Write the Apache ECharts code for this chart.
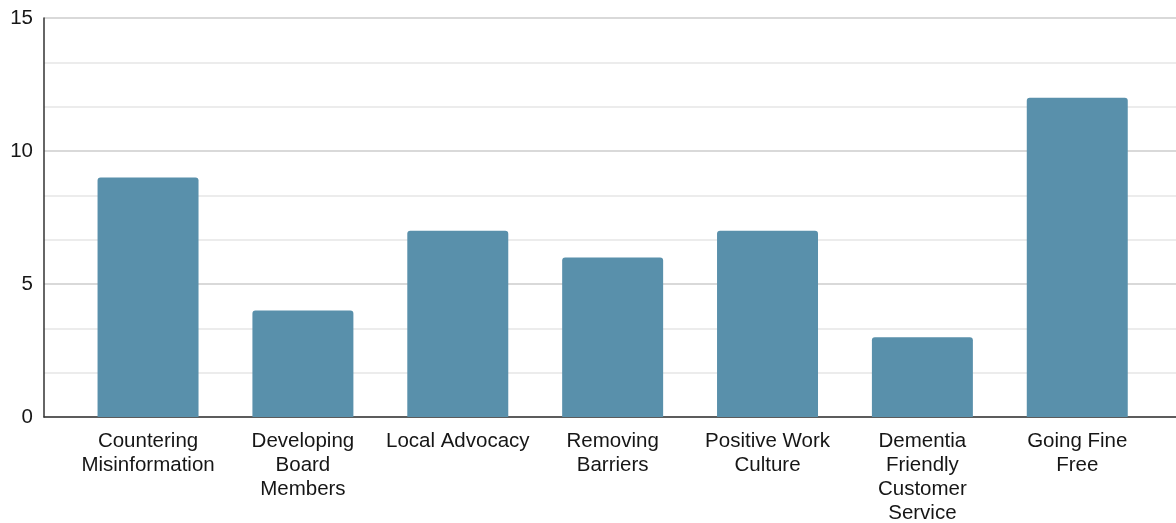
<!DOCTYPE html>
<html>
<head>
<meta charset="utf-8">
<script src="https://cdn.jsdelivr.net/npm/echarts@6/dist/echarts.min.js"></script>
<style>
  html, body { margin: 0; padding: 0; background: #ffffff; }
  #chart { width: 1176px; height: 523px; }
</style>
</head>
<body>
<div id="chart"></div>
<script>
// Topics and how many times each was chosen
const categories = [
  'Countering\nMisinformation',
  'Developing\nBoard\nMembers',
  'Local Advocacy',
  'Removing\nBarriers',
  'Positive Work\nCulture',
  'Dementia\nFriendly\nCustomer\nService',
  'Going Fine\nFree'
];
const counts = [9, 4, 7, 6, 7, 3, 12];

// Value axis range and ticks
const yMin = 0;
const yMax = 15;
const yStep = 5;

const FONT = '"Liberation Sans", Arial, sans-serif';
const BAR_COLOR = '#5990ab';

const chart = echarts.init(document.getElementById('chart'), null, { renderer: 'canvas' });

chart.setOption({
  animation: false,
  backgroundColor: '#ffffff',
  grid: [
    // frame: y axis, gridlines and baseline
    { left: 44, right: 0, top: 18, bottom: 106, containLabel: false, outerBoundsMode: 'none' },
    // bars and category labels, inset within the frame
    { left: 70.6, right: 21.3, top: 18, bottom: 106, containLabel: false, outerBoundsMode: 'none' }
  ],
  xAxis: [
    {
      gridIndex: 0, type: 'value', min: 0, max: 1,
      axisLine: { show: true, onZero: true, lineStyle: { color: '#333333', width: 1.5 } },
      axisTick: { show: false }, axisLabel: { show: false }, splitLine: { show: false }
    },
    {
      gridIndex: 1, type: 'category', data: categories,
      axisLine: { show: false }, axisTick: { show: false },
      axisLabel: {
        interval: 0, margin: 12, color: '#161616',
        fontFamily: FONT, fontSize: 20.5, lineHeight: 24
      }
    }
  ],
  yAxis: [
    {
      gridIndex: 0, type: 'value', min: yMin, max: yMax, interval: yStep,
      axisLine: { show: true, lineStyle: { color: '#333333', width: 1.5 } },
      axisTick: { show: false },
      axisLabel: { margin: 11, color: '#161616', fontFamily: FONT, fontSize: 20.5, padding: [2, 0, 0, 0] },
      splitLine: { show: true, lineStyle: { color: '#cccccc', width: 1.5 } },
      minorTick: { show: false, splitNumber: 3 },
      minorSplitLine: { show: true, lineStyle: { color: '#e6e6e6', width: 1.5 } }
    },
    {
      gridIndex: 1, type: 'value', min: yMin, max: yMax, interval: yStep,
      axisLine: { show: false }, axisTick: { show: false },
      axisLabel: { show: false }, splitLine: { show: false }
    }
  ],
  series: [
    {
      type: 'bar',
      xAxisIndex: 1, yAxisIndex: 1,
      data: counts,
      barWidth: '65.2%',
      itemStyle: { color: BAR_COLOR, borderRadius: [3, 3, 0, 0] },
      z: 3
    }
  ]
});
</script>
</body>
</html>
